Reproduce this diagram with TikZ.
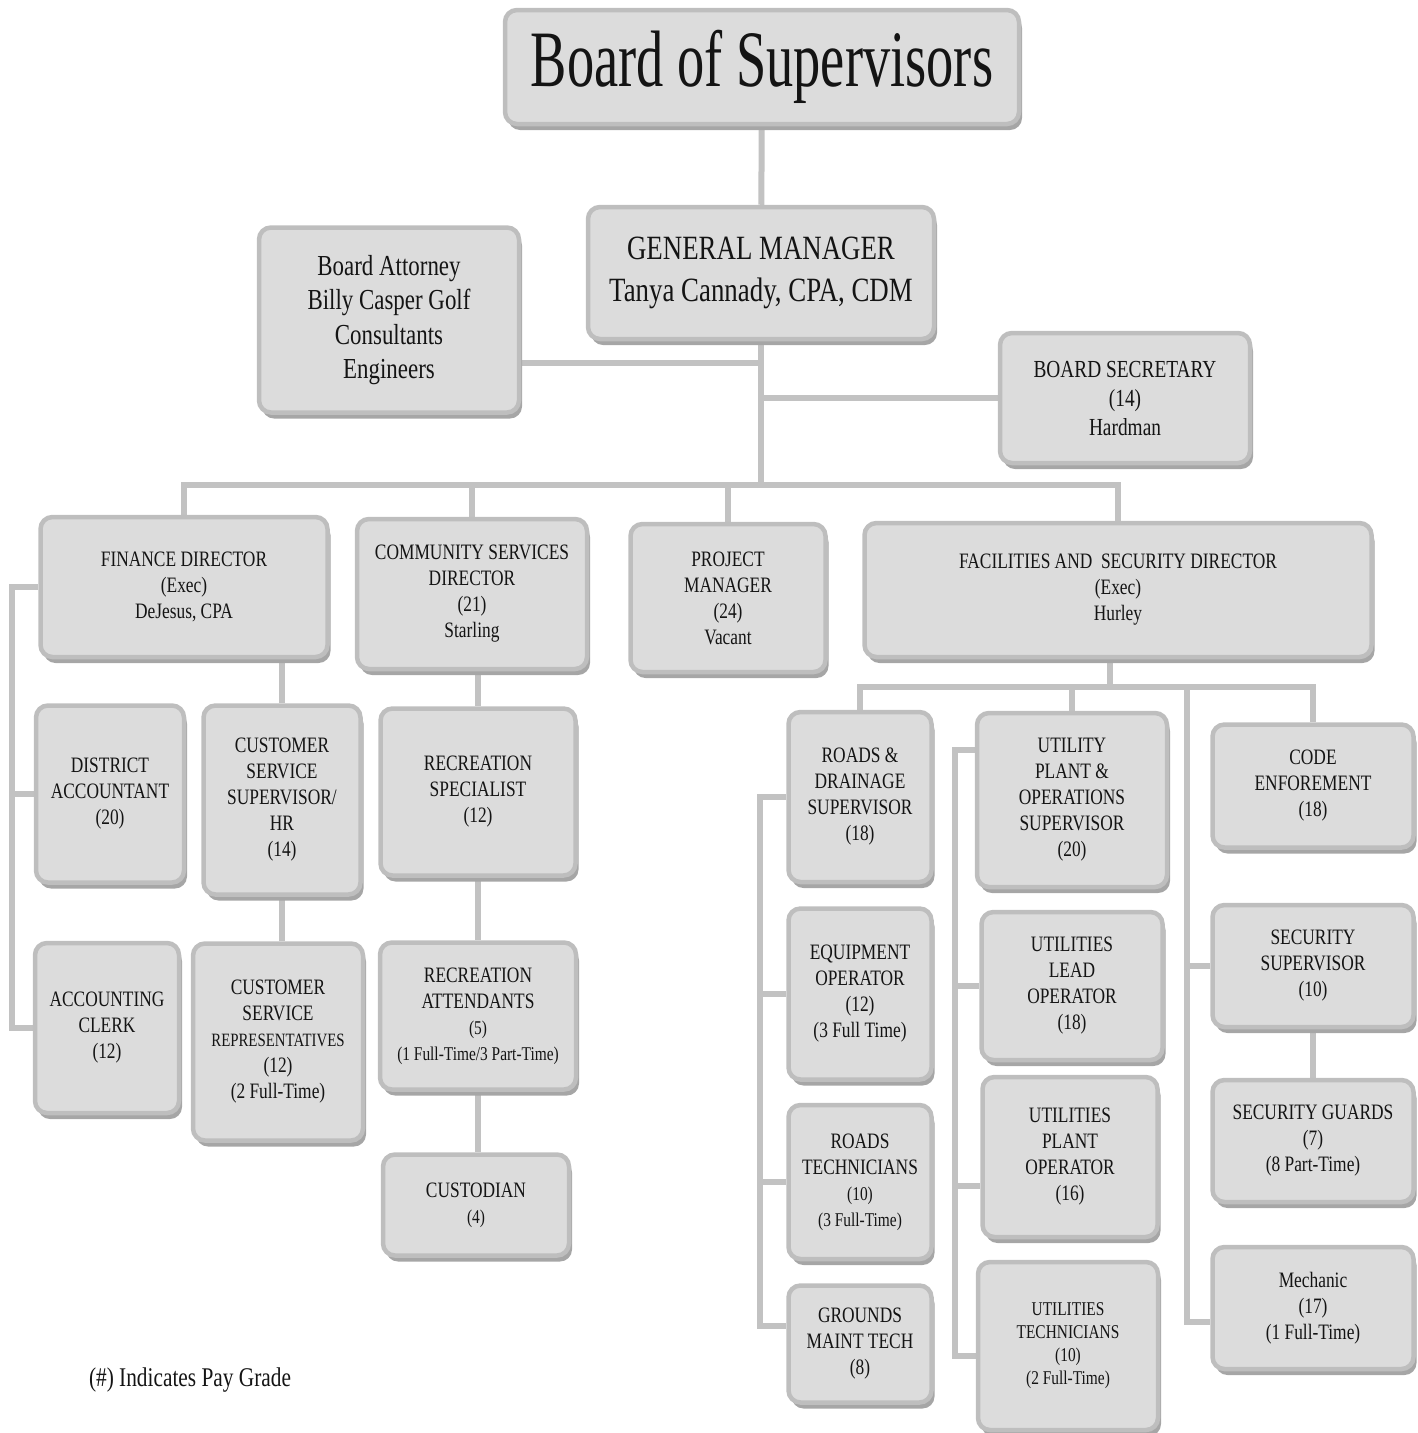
\documentclass[tikz,border=0pt]{standalone}
\usepackage{fontspec}
\setmainfont{Liberation Serif}[FakeStretch=0.79]
\newfontfamily\titlefont{Liberation Serif}[FakeStretch=0.68]
\usetikzlibrary{shadows, backgrounds}
\definecolor{orgfill}{HTML}{DCDCDC}
\definecolor{orgedge}{HTML}{BEBEBE}
\definecolor{orgshade}{HTML}{A6A6A6}
\definecolor{orgline}{HTML}{C2C2C2}
\definecolor{orgtext}{HTML}{141414}
\newcommand{\smtxt}{\fontsize{19.5}{23}\selectfont}
\tikzset{
  orgbox/.style={rectangle, rounded corners=12pt, draw=orgedge, fill=orgfill,
              line width=4.5pt, text=orgtext, align=center, inner sep=2pt,
              font=\fontsize{22}{26}\selectfont,
              drop shadow={shadow xshift=3pt, shadow yshift=-6pt, fill=orgshade, opacity=1}},
  orgsmall/.style={orgbox, font=\smtxt},
  conn/.style={draw=orgline, line width=6pt},
  note/.style={font=\fontsize{27}{30}\selectfont, text=orgtext},
}

\begin{document}
\begin{tikzpicture}[x=1pt,y=-1pt]
    \useasboundingbox (0,0) rectangle (1418,1433);
    \node[orgbox, minimum width=514pt, minimum height=114pt, font=\titlefont\fontsize{80}{90}\selectfont] (bos) at (762,67) {Board of Supervisors};
    \node[orgbox, minimum width=346pt, minimum height=132pt, font=\fontsize{34}{42}\selectfont] (gm) at (761,273) {GENERAL MANAGER\\Tanya Cannady, CPA, CDM};
    \node[orgbox, minimum width=260pt, minimum height=185pt, font=\fontsize{29}{34.6}\selectfont] (att) at (389,320) {Board Attorney\\Billy Casper Golf\\Consultants\\Engineers};
    \node[orgbox, minimum width=250pt, minimum height=130pt, font=\fontsize{24.5}{29}\selectfont] (sec) at (1125,398) {BOARD SECRETARY\\(14)\\Hardman};
    \node[orgbox, minimum width=287pt, minimum height=140pt] (fin) at (184,587) {FINANCE DIRECTOR\\(Exec)\\DeJesus, CPA};
    \node[orgbox, minimum width=230pt, minimum height=150pt] (com) at (472,594) {COMMUNITY SERVICES\\DIRECTOR\\(21)\\Starling};
    \node[orgbox, minimum width=195pt, minimum height=148pt] (pm) at (728,598) {PROJECT\\MANAGER\\(24)\\Vacant};
    \node[orgbox, minimum width=507pt, minimum height=134pt] (fac) at (1118,590) {FACILITIES AND\ \ SECURITY DIRECTOR\\(Exec)\\Hurley};
    \node[orgbox, minimum width=148pt, minimum height=177pt] (dacc) at (110,794) {DISTRICT\\ACCOUNTANT\\(20)};
    \node[orgbox, minimum width=157pt, minimum height=189pt] (css) at (282,800) {CUSTOMER\\SERVICE\\SUPERVISOR/\\HR\\(14)};
    \node[orgbox, minimum width=195pt, minimum height=167pt] (rs) at (478,792) {RECREATION\\SPECIALIST\\(12)};
    \node[orgbox, minimum width=144pt, minimum height=170pt] (acc) at (107,1028) {ACCOUNTING\\CLERK\\(12)};
    \node[orgbox, minimum width=170pt, minimum height=197pt] (csr) at (278,1042) {CUSTOMER\\SERVICE\\{\fontsize{18.8}{23}\selectfont REPRESENTATIVES}\\(12)\\(2 Full-Time)};
    \node[orgbox, minimum width=196pt, minimum height=147pt] (ra) at (478,1016) {RECREATION\\ATTENDANTS\\{\smtxt (5)}\\{\smtxt (1 Full-Time/3 Part-Time)}};
    \node[orgbox, minimum width=186pt, minimum height=101pt] (cus) at (476,1205) {CUSTODIAN\\{\smtxt (4)}};
    \node[orgbox, minimum width=143pt, minimum height=170pt] (rd) at (860,797) {ROADS \&\\DRAINAGE\\SUPERVISOR\\(18)};
    \node[orgbox, minimum width=190pt, minimum height=174pt] (up) at (1072,800) {UTILITY\\PLANT \&\\OPERATIONS\\SUPERVISOR\\(20)};
    \node[orgbox, minimum width=201pt, minimum height=123pt] (ce) at (1313,786) {CODE\\ENFOREMENT\\(18)};
    \node[orgbox, minimum width=143pt, minimum height=171pt] (eo) at (860,994) {EQUIPMENT\\OPERATOR\\(12)\\(3 Full Time)};
    \node[orgbox, minimum width=181pt, minimum height=148pt] (lo) at (1072,986) {UTILITIES\\LEAD\\OPERATOR\\(18)};
    \node[orgbox, minimum width=201pt, minimum height=122pt] (ss) at (1313,966) {SECURITY\\SUPERVISOR\\(10)};
    \node[orgbox, minimum width=143pt, minimum height=154pt] (rt) at (860,1182) {ROADS\\TECHNICIANS\\{\smtxt (10)}\\{\smtxt (3 Full-Time)}};
    \node[orgbox, minimum width=175pt, minimum height=160pt] (po) at (1070,1157) {UTILITIES\\PLANT\\OPERATOR\\(16)};
    \node[orgbox, minimum width=201pt, minimum height=122pt] (sg) at (1313,1141) {SECURITY GUARDS\\(7)\\(8 Part-Time)};
    \node[orgbox, minimum width=143pt, minimum height=117pt] (gmt) at (860,1344) {GROUNDS\\MAINT TECH\\(8)};
    \node[orgsmall, minimum width=180pt, minimum height=168pt] (ut) at (1068,1346) {UTILITIES\\TECHNICIANS\\(10)\\(2 Full-Time)};
    \node[orgbox, minimum width=201pt, minimum height=122pt] (mech) at (1313,1308) {Mechanic\\(17)\\(1 Full-Time)};
    \node[note] (paygrade) at (190,1380) {(\#) Indicates Pay Grade};
    \coordinate (bus) at (761,485);
    \coordinate (finrail) at (12,0);
    \coordinate (fbus) at (1110,687);
    \coordinate (secrail) at (1187,687);
    \coordinate (rdrail) at (760,0);
    \coordinate (uprail) at (955,0);
    \begin{pgfonlayer}{background}
    \draw[conn] (bos) -- (gm);
    \draw[conn] (gm.south) -- (bus);
    \draw[conn] (att.-18) -- (att.-18 -| gm.south);
    \draw[conn] (sec.west) -- (sec.west -| gm.south);
    \draw[conn] (fin.north) -- (fin.north |- bus) -- (fac.north |- bus) -- (fac.north);
    \foreach \n in {com, pm}
      \draw[conn] (\n.north) -- (\n.north |- bus);
    \draw[conn] (fin.west) -| (finrail |- acc.west) -- (acc.west);
    \draw[conn] (dacc.west) -- (dacc.west -| finrail);
    \draw[conn] (css.north |- fin.south) -- (css.north);
    \draw[conn] (css.south) -- (css.south |- csr.north);
    \draw[conn] (rs.north |- com.south) -- (rs.north);
    \draw[conn] (rs) -- (ra);
    \draw[conn] (ra.south) -- (ra.south |- cus.north);
    \draw[conn] (fac.south -| fbus) -- (fbus);
    \draw[conn] (rd.north) |- (fbus) -| (ce.north);
    \draw[conn] (up.north) -- (up.north |- fbus);
    \draw[conn] (secrail) |- (mech.188);
    \draw[conn] (ss.west) -- (ss.west -| secrail);
    \draw[conn] (ss) -- (sg);
    \draw[conn] (rd.west) -| (rdrail |- gmt.166) -- (gmt.166);
    \foreach \n in {eo, rt}
      \draw[conn] (\n.west) -- (\n.west -| rdrail);
    \draw[conn] (up.153) -| (uprail |- ut.186) -- (ut.186);
    \draw[conn] (lo.west) -- (lo.west -| uprail);
    \draw[conn] (po.198) -- (po.198 -| uprail);
    \end{pgfonlayer}
\end{tikzpicture}
\end{document}
